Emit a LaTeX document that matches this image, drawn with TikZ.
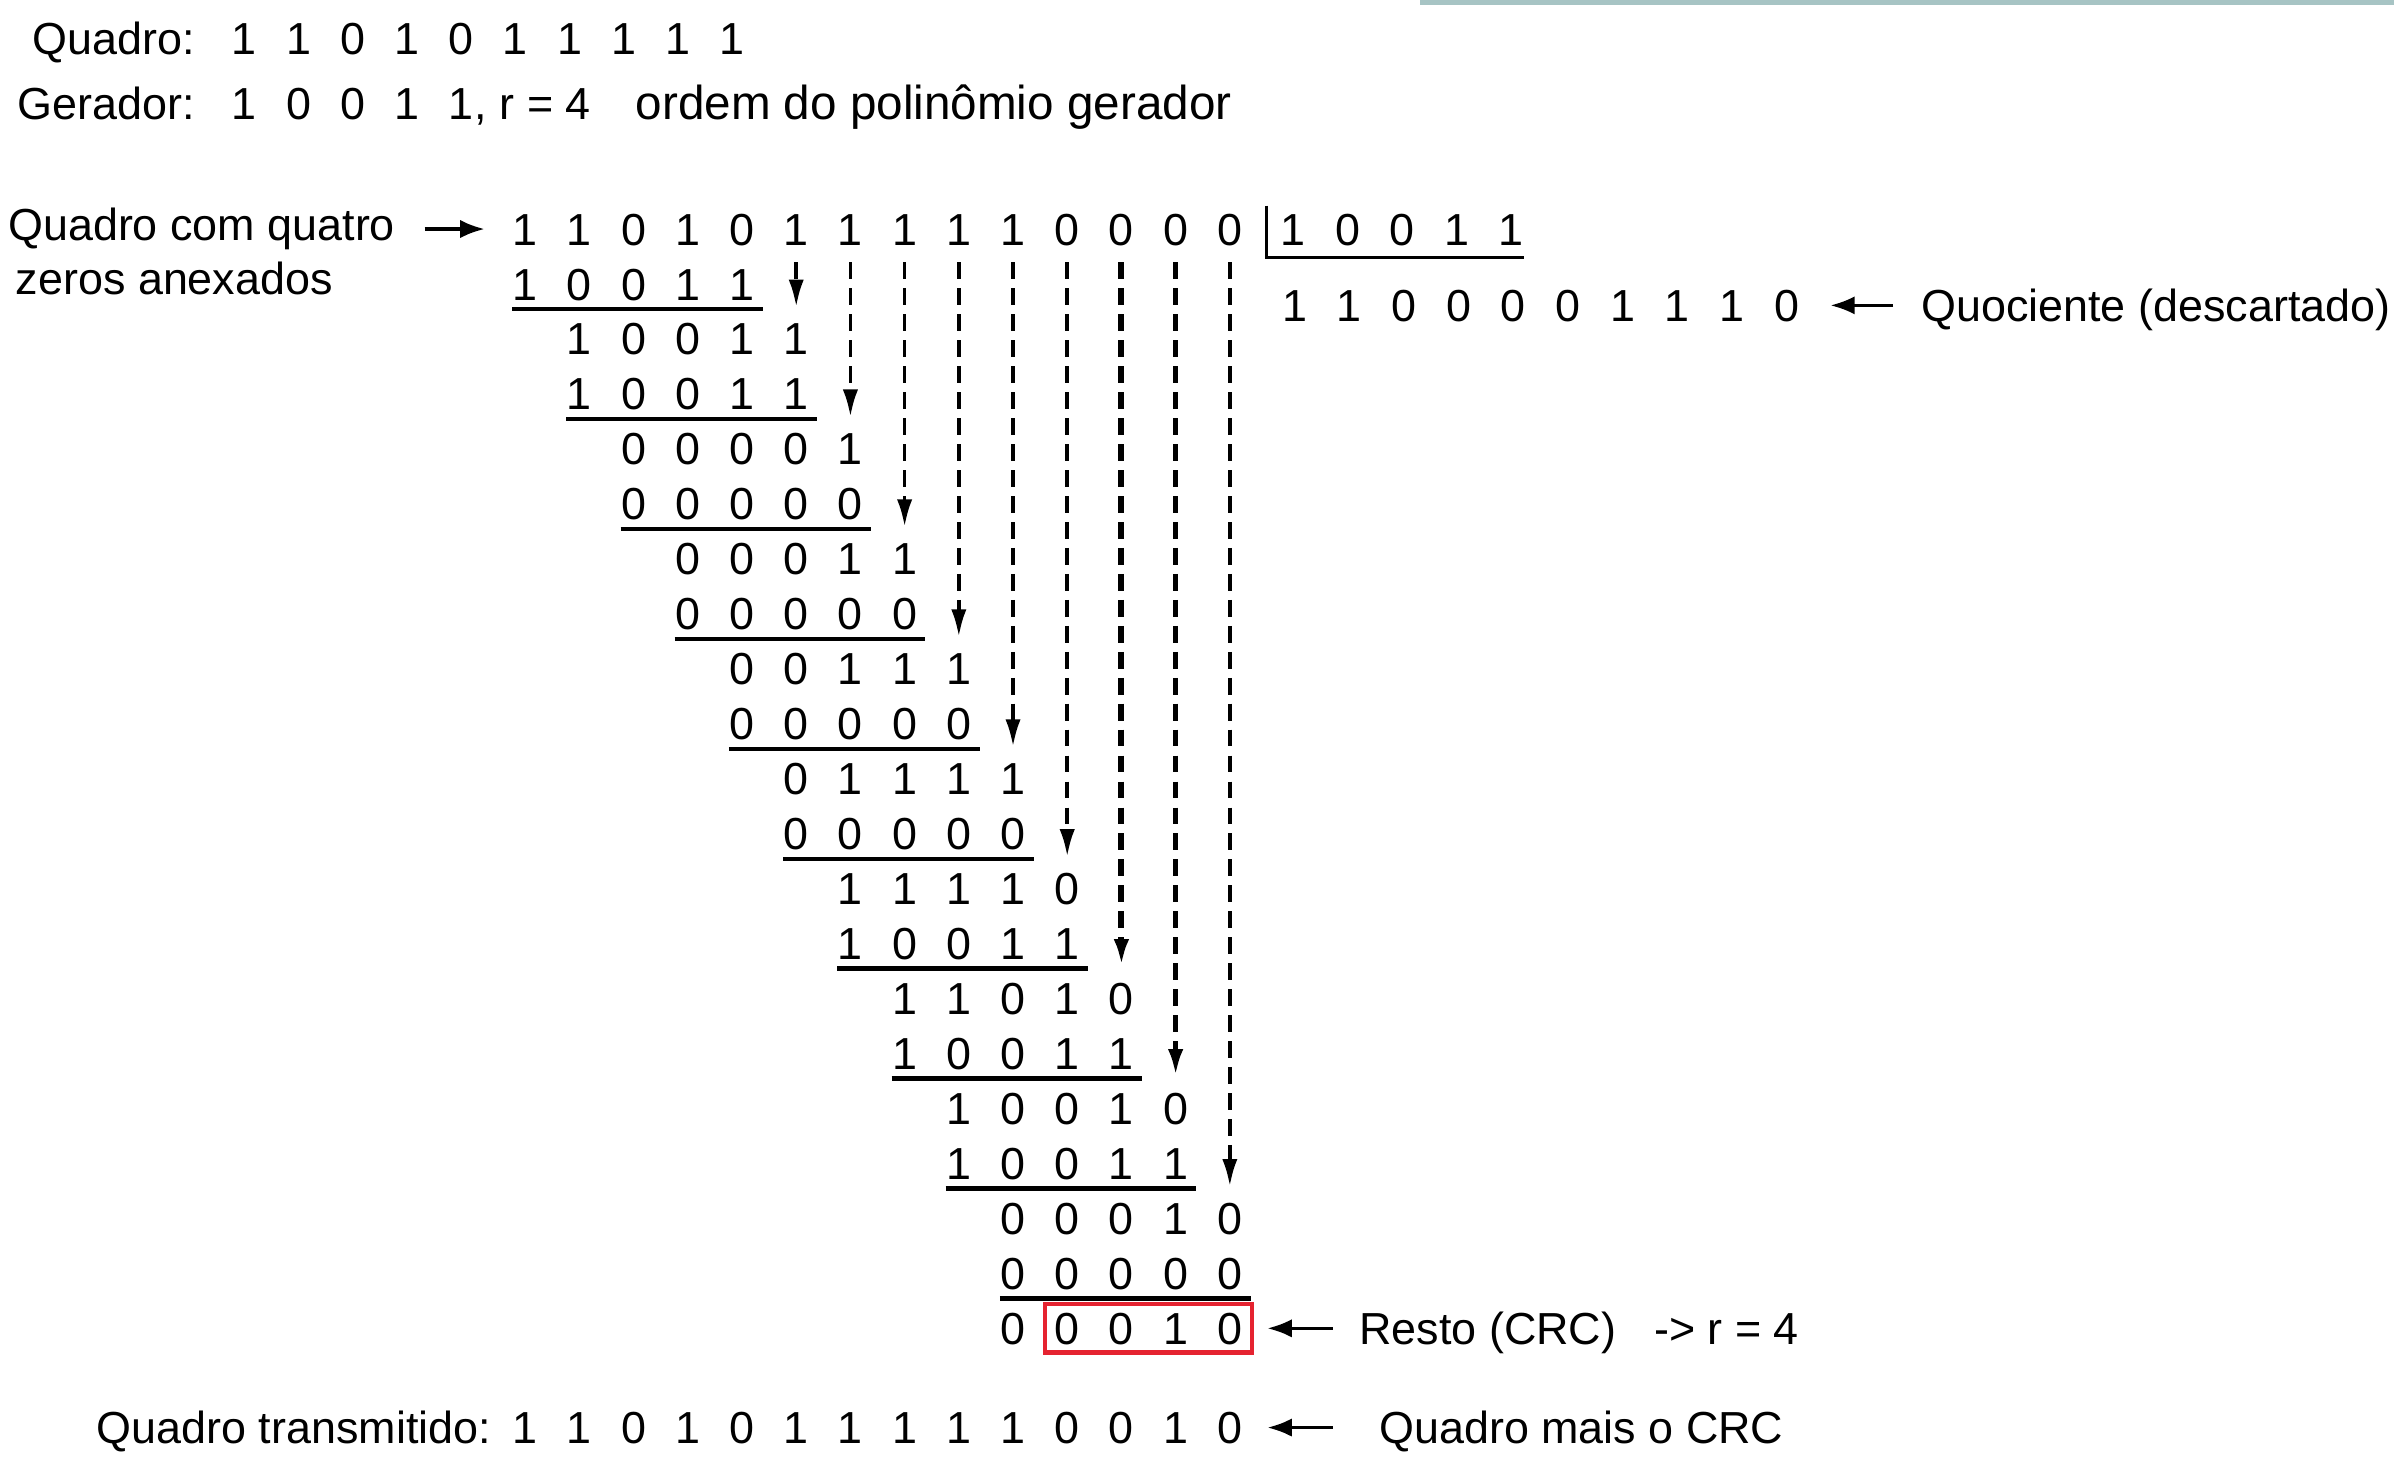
\documentclass[tikz,border=0pt]{standalone}
\usepackage{fontspec}
\setmainfont{Liberation Sans}
\usetikzlibrary{arrows.meta,fit}

\definecolor{crcred}{HTML}{E52330}
\definecolor{barteal}{HTML}{A7C4C4}

\tikzset{
    bit/.style={inner sep=0pt, text height=10.5pt, text depth=0pt, font=\fontsize{14.7}{17}\selectfont},
    lbl/.style={inner sep=0pt, font=\fontsize{14.7}{17}\selectfont},
    subline/.style={line width=1.4pt},
    divline/.style={line width=1pt},
    bringdown/.style={dash pattern=on 5.5pt off 3pt, -{Latex[length=9pt,width=5pt]}, shorten <=5.5pt, shorten >=5pt},
    pointer/.style={line width=1.1pt, -{Latex[length=8pt,width=6pt]}},
    crcbox/.style={draw=crcred, line width=1.5pt, inner xsep=3pt, inner ysep=2.5pt},
}

\begin{document}
\begin{tikzpicture}[x=0.5pt, y=-0.5pt]
    \useasboundingbox (0,0) rectangle (1568,970.7);
    \fill[barteal] (930,0) rectangle (1568,3);

    % quadro e gerador
    \node[lbl, anchor=base east] (quadro) at (128,35.5) {Quadro:};
    \foreach \b [count=\k from 0] in {1,1,0,1,0,1,1,1,1,1}
        \node[bit] (h\k) at ({160+35.5*\k},25) {\b};
    \node[lbl, anchor=base east] (gerador) at (128,78.5) {Gerador:};
    \foreach \b [count=\k from 0] in {1,0,0,1,1}
        \node[bit] (g\k) at ({160+35.5*\k},68) {\b};
    \node[lbl, anchor=base west] (rval) at (g4.base east) {, r = 4};
    \node[lbl, anchor=base west, font=\fontsize{15.6}{18}\selectfont] (ordem) at (416,78.5) {ordem do polinômio gerador};

    % divisao longa
    \foreach \row/\first/\bits in {0/0/{1,1,0,1,0,1,1,1,1,1,0,0,0,0},
            1/0/{1,0,0,1,1}, 2/1/{1,0,0,1,1}, 3/1/{1,0,0,1,1}, 4/2/{0,0,0,0,1},
            5/2/{0,0,0,0,0}, 6/3/{0,0,0,1,1}, 7/3/{0,0,0,0,0}, 8/4/{0,0,1,1,1},
            9/4/{0,0,0,0,0}, 10/5/{0,1,1,1,1}, 11/5/{0,0,0,0,0}, 12/6/{1,1,1,1,0},
            13/6/{1,0,0,1,1}, 14/7/{1,1,0,1,0}, 15/7/{1,0,0,1,1}, 16/8/{1,0,0,1,0},
            17/8/{1,0,0,1,1}, 18/9/{0,0,0,1,0}, 19/9/{0,0,0,0,0}, 20/9/{0,0,0,1,0}}
        \foreach \b [count=\k from 0] in \bits {
            \pgfmathtruncatemacro\col{\first+\k}
            \node[bit] (r\row-c\col) at ({344+35.5*\col},{150+36*\row}) {\b};
        }
    \foreach \row in {1,3,...,19} {
        \pgfmathtruncatemacro\lo{\row/2}
        \pgfmathtruncatemacro\hi{\lo+4}
        \draw[subline] ([yshift=-2.75pt]r\row-c\lo.south west) -- ([xshift=2.5pt,yshift=-2.75pt]r\row-c\hi.south east);
    }
    \foreach \col/\w in {5/1.2pt,6/1.2pt,7/1.2pt,8/1.2pt,9/1.2pt,10/1.2pt,11/2pt,12/1.7pt,13/1.2pt} {
        \pgfmathtruncatemacro\tgt{2*(\col-4)}
        \draw[bringdown, line width=\w] (r0-c\col.south) -- (r\tgt-c\col.north);
    }
    \node[crcbox, fit=(r20-c10)(r20-c13)] (crc) {};

    % divisor e quociente
    \foreach \b [count=\k from 0] in {1,0,0,1,1}
        \node[bit] (d\k) at ({847+35.7*\k},150) {\b};
    \draw[divline] ([shift={(-4.5pt,2.25pt)}]d0.north west) |- ([yshift=-3.75pt]d4.south east);
    \foreach \b [count=\k from 0] in {1,1,0,0,0,0,1,1,1,0}
        \node[bit] (q\k) at ({848+35.8*\k},200) {\b};

    % rotulos
    \node[lbl, anchor=base west] (framelbl) at (5,157.5) {Quadro com quatro};
    \node[lbl, anchor=base west] (zeroslbl) at (10,193) {zeros anexados};
    \draw[pointer, shorten <=9.5pt, shorten >=9pt] (framelbl.east |- r0-c0.west) -- (r0-c0.west);

    \node[lbl, anchor=base west] (quolbl) at (1258,210.5) {Quociente (descartado)};
    \draw[pointer, shorten <=9pt, shorten >=10pt] (quolbl.west |- q9.east) -- (q9.east);

    \node[lbl, anchor=base west] (restolbl) at (890,880.5) {Resto (CRC)};
    \node[lbl, anchor=base west] (rlbl) at (1083,880.5) {-> r = 4};
    \draw[pointer, shorten <=8.5pt, shorten >=8pt] (restolbl.west |- r20-c13.east) -- (r20-c13.east);

    % quadro transmitido
    \node[lbl, anchor=base east] (txlbl) at (322,945.5) {Quadro transmitido:};
    \foreach \b [count=\k from 0] in {1,1,0,1,0,1,1,1,1,1,0,0,1,0}
        \node[bit] (t\k) at ({344+35.5*\k},935) {\b};
    \node[lbl, anchor=base west] (crclbl) at (903,945.5) {Quadro mais o CRC};
    \draw[pointer, shorten <=15pt, shorten >=8pt] (crclbl.west |- t13.east) -- (t13.east);
\end{tikzpicture}
\end{document}
